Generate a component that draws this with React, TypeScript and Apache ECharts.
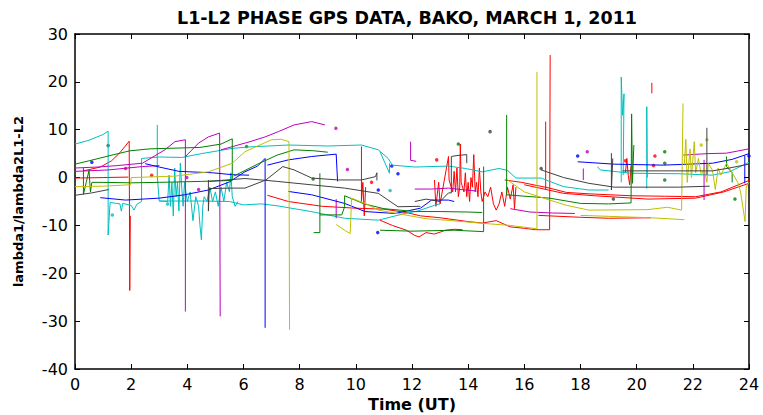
import React, { useEffect, useRef } from "react";
import * as echarts from "echarts";

// ---------- data (time in UT hours, value) ----------
const xTicks = [0, 2, 4, 6, 8, 10, 12, 14, 16, 18, 20, 22, 24];
const yTicks = [-40, -30, -20, -10, 0, 10, 20, 30];

// red passes
const red1 = [[0.3, 1.4], [0.9, 2.2], [1.3, 3.5], [1.6, 5.2], [1.93, 7.6], [1.95, -23.6], [1.97, -8]];
const red2 = [[0, -0.1], [1.0, 0.0], [1.9, 0.1]];
const red3 = [[6.85, -3.7], [7.6, -5.0], [8.8, -6.0], [10.0, -6.4], [11.0, -6.6], [11.8, -7.3], [12.3, -8.0], [13.0, -8.4], [14.0, -9.2], [14.5, -9.5], [15.0, -9.0], [15.5, -10.3], [16.0, -10.6], [16.4, -10.9], [16.9, -10.9], [16.92, 25.6]];
const red4 = [[10.86, -8.9], [11.3, -10.0], [11.8, -11.0], [12.1, -12.1], [12.25, -12.4], [12.5, -11.5], [12.8, -11.8], [13.2, -11.0], [13.5, -10.8], [13.8, -10.9]];
const red5 = [[15.3, -0.5], [15.9, -1.0], [16.9, -2.2], [17.5, -3.1], [18.3, -3.4], [19.8, -3.8], [21.0, -3.9], [22.1, -4.0], [23.0, -3.0], [24.0, -0.6]];
const red6 = [[16.0, -1.5], [17.4, -3.3], [18.5, -3.8], [20.4, -4.5], [22.1, -4.3], [23.1, -3.0], [24.0, -1.2]];
const red7 = [[16.5, -7.9], [18.0, -8.3], [19.0, -8.5], [20.5, -8.4]];
const red8 = [[10.2, 6.5], [10.2, -5.0], [10.25, -1.0], [10.3, -8.0], [10.35, -2.0]];
const red9 = [[12.8, -0.5], [12.85, -6.0], [12.95, -1.0], [13.0, -5.5], [13.3, 4.4], [13.32, -0.5], [13.45, -3], [13.5, 1.3], [13.55, -3], [13.6, 2], [13.65, -4], [13.7, -2], [13.72, 7], [13.75, -1], [13.85, -3], [13.9, 1], [13.95, -4], [14.0, -1], [14.05, -5], [14.1, 0], [14.15, -2], [14.2, 4.8], [14.25, -3], [14.3, -1], [14.35, -4], [14.4, 2], [14.45, -3], [14.5, -5], [14.6, -3], [14.7, -4], [14.8, -2], [14.9, -5.5], [15.0, -6.8], [15.1, -5.5], [15.2, -3], [15.3, -6], [15.4, -2], [15.5, -4.5], [15.6, -1.5], [15.65, -6.5], [15.7, -2]];
const red10 = [[16.76, 11.7], [16.76, -2.5]];
const red11 = [[20.54, 19.8], [20.54, 17.6]];
const red12 = [[19.6, 1.0], [19.65, 4.0], [19.7, 0.5], [19.75, -1.5], [19.8, 2.5]];

// cyan passes
const cyan1 = [[0, 7.0], [0.5, 7.8], [1.0, 9.0], [1.18, 9.7], [1.18, -12], [1.25, -5.2], [1.6, -5.5], [1.65, -7], [1.7, -5.4], [2.0, -5.8], [2.1, -6.8], [2.2, -5.6], [2.37, -5.0]];
const cyan2 = [[2.37, -5.0], [2.37, 4.0], [3.0, 4.3], [3.8, 4.2], [4.5, 5.0], [5.6, 6.1], [6.2, 6.4], [7.6, 6.8], [9.0, 6.6], [10.2, 6.8], [10.8, 5.8], [11.15, 4.0], [11.3, 2.6], [12.1, 2.2], [13.3, 2.4], [13.9, 1.9], [14.5, 1.2], [15.1, 1.9], [15.4, 1.5], [15.7, -0.1], [16.6, -0.1], [16.9, -0.8], [17.4, -1.9], [18.3, -2.6], [19.0, -2.6]];
const cyan3 = [[2.93, 11.0], [2.93, 0.2], [3.0, -4.9], [3.3, -5], [3.35, 0.5], [3.4, -6], [3.45, -1], [3.5, -8], [3.55, 2], [3.6, -4], [3.65, -1], [3.7, -7], [3.75, 3], [3.8, -2], [3.85, -6], [3.9, -1], [4.0, -5], [4.1, -3], [4.2, -9], [4.3, -4], [4.4, -6], [4.45, -10], [4.5, -13], [4.55, -6], [4.6, -4], [4.7, -5], [4.8, -2], [4.9, -5], [5.0, -3], [5.1, -6], [5.2, -2], [5.3, -5], [5.4, -1], [5.5, -3], [5.55, 1], [5.6, -4], [5.7, -6], [5.8, -5]];
const cyan4 = [[3.0, -4.9], [4.5, -4.9], [5.5, -5.0], [6.0, -5.7], [6.65, -5.5], [7.2, -5.9], [8.4, -7.1], [9.6, -8.5], [10.8, -8.9], [11.75, -7.5], [12.2, -7.0], [12.8, -5.8], [13.0, -5.5]];
const cyan5 = [[18.6, 2.3], [18.7, 1.6], [19.8, 0.9], [21.5, 0.8], [22.7, 0.5], [23.3, 1.2], [24.0, 3.2]];
const cyan6 = [[19.45, -1.0], [19.45, 21.0], [19.5, 13.0], [19.55, 17.5], [19.52, 0.5]];
const cyan7 = [[20.36, -2.3], [20.36, 14.8], [20.38, 0]];
const cyan8 = [[10.86, 5.4], [11.2, 0.9], [11.2, 3.0]];

// magenta passes
const mag1 = [[0, 2.0], [0.8, 2.2], [1.5, 2.5], [2.4, 3.0], [3.2, 5.8], [3.56, 7.5], [3.93, 7.9], [3.93, -28.0]];
const mag2 = [[3.95, 4.5], [4.4, 7.2], [4.75, 8.5], [5.15, 9.3], [5.17, -29.0]];
const mag3 = [[5.2, 5.8], [6.23, 7.5], [6.77, 8.5], [7.24, 9.6], [7.8, 11.0], [8.43, 11.7], [8.9, 11.0]];
const mag4 = [[0, 1.3], [1.2, 1.6], [2.4, 2.3], [3.0, 2.5]];
const mag5 = [[11.95, 7.5], [11.95, 3.6], [12.15, 3.4]];
const mag6 = [[12.1, -2.4], [12.7, -2.4], [13.3, -2.2], [13.9, -2.6], [14.3, -2.8]];
const mag7 = [[15.5, -6.5], [16.2, -7.2], [17.0, -7.4], [17.8, -7.5]];
const mag8 = [[21.66, 4.7], [22.5, 5.0], [23.2, 5.1], [24.0, 6.0]];
const mag9 = [[22.4, 3.7], [22.4, -4.7]];
const mag10 = [[9.3, -4.5], [9.3, -8.5]];
const mag11 = [[18.1, 1.9], [18.1, -0.5]];

// blue passes
const blue1 = [[0.9, -4.2], [1.8, -4.7], [3.0, -4.3], [3.9, -3.6], [4.75, -2.6], [5.5, -0.9], [6.05, 1.2], [6.5, 2.4], [6.77, 4.0], [6.77, -31.4]];
const blue2 = [[6.85, 2.6], [7.6, 3.7], [8.43, 4.4], [9.3, 4.9], [9.35, -0.8]];
const blue3 = [[2.5, 2.9], [3.0, 2.2], [3.7, 1.3], [4.9, 1.0], [5.6, 0.6], [6.2, 0.5]];
const blue4 = [[7.6, -2.9], [8.43, -3.6], [9.6, -5.4], [10.33, -7.1], [11.4, -7.5], [12.3, -6.4], [12.7, -4.7], [13.3, -4.7], [13.5, -5.0]];
const blue5 = [[17.9, 3.3], [19.2, 2.8], [20.95, 2.6], [22.7, 3.0], [23.4, 3.8], [24.0, 5.0]];
const blue6 = [[23.85, 4.6], [23.85, -1.2]];

// green passes
const green1 = [[0, 2.8], [0.5, 3.5], [1.25, 4.6], [1.96, 5.6], [2.67, 6.0], [4.45, 6.3], [5.2, 7.0], [5.6, 8.1], [5.6, -0.5]];
const green2 = [[0.3, 2.0], [0.3, -3.5], [0.4, -1.0], [0.5, 1.5], [0.55, -3.0], [0.6, -1.0], [1.0, -1.0], [2.0, -1.1], [3.0, -1.0], [4.5, -0.8], [5.6, -0.6]];
const green3 = [[5.65, 0.3], [6.5, 2.8], [7.2, 4.7], [7.8, 5.8], [8.5, 5.6], [9.0, 5.3]];
const green4 = [[8.5, -11.5], [8.72, -11.5], [8.72, 0.9]];
const green5 = [[8.72, -7.8], [9.5, -7.8], [9.6, -6.1], [9.6, -3.8], [10.3, -5.5], [11.0, -6.5], [12.1, -7.1], [13.0, -7.1], [14.0, -7.2], [14.5, -7.3]];
const green6 = [[10.86, -11.0], [12.0, -11.2], [13.5, -11.0], [14.55, -11.3], [14.55, 2.3]];
const green7 = [[15.37, 13.1], [15.37, -3.6], [16.9, -4.3], [18.0, -5.4], [19.0, -5.5], [19.8, -5.3], [19.82, 13.3], [19.85, -1.2], [19.9, 6.8]];
const green8 = [[23.2, 4.4], [23.2, 2.3], [23.4, 1.0], [23.4, -1.0]];

// yellow passes
const yel1 = [[0, -1.9], [1.0, -1.8], [1.98, -1.5], [2.0, 0.0], [3.56, 0.3], [4.75, 1.2], [5.6, 3.0], [6.05, 5.4], [7.0, 7.9], [7.35, 8.0], [7.62, 7.5], [7.64, -31.8]];
const yel2 = [[9.3, -9.8], [9.6, -11.0], [9.8, -11.7], [9.85, -4.3], [10.4, -5.6], [10.8, -6.8], [11.75, -7.8], [12.5, -8.6], [13.2, -8.9], [14.6, -9.6], [15.5, -10.0], [16.45, -10.7], [16.45, 22.1]];
const yel3 = [[15.4, -0.5], [16.0, -3.0], [16.9, -4.7], [17.5, -5.8], [18.3, -6.8], [20.4, -6.7], [21.1, -6.2], [21.6, -6.8], [21.65, 15.5]];
const yel4 = [[18.0, -7.9], [19.5, -8.2], [20.5, -8.4], [21.7, -8.8]];
const yel5 = [[21.7, 3], [21.75, 8], [21.8, -1], [21.9, 6], [21.95, 0], [22.05, 7.5], [22.1, 1], [22.2, 4], [22.3, 0.5], [22.4, 2], [22.5, -1], [22.55, 3], [22.7, 1.5], [22.8, -2.5], [22.9, 2], [23.0, 0.5], [23.2, 3], [23.4, 1], [23.6, -1], [23.7, -3], [23.86, -9.2], [23.9, -2], [24.0, -1]];

// black / grey passes
const blk1 = [[0, -3.7], [0.6, -3.2], [1.2, -2.5]];
const blk2 = [[4.75, -0.5], [4.75, -7.0], [4.78, -2.3], [5.5, -2.2], [6.05, -2.2], [6.8, -0.5], [7.4, 2.3], [7.8, 1.6], [8.43, -0.1], [9.38, -0.5], [10.2, -0.5], [10.7, 0.2], [10.75, 1.0], [10.75, -0.6]];
const blk3 = [[4.75, -0.8], [6.05, -0.2], [7.2, -0.8], [8.4, -1.5], [9.6, -2.2], [10.8, -3.3], [11.5, -6.1], [12.3, -6.0]];
const blk4 = [[12.1, -5.0], [12.5, -4.5], [13.0, -5.0], [13.3, -3.2], [13.4, -3.2], [13.4, 4.4], [13.6, 4.6], [13.95, 4.8], [13.95, 3.0]];
const blk5 = [[16.6, 1.6], [17.4, 0.0], [18.3, -1.2], [19.2, -2.0], [21.5, -2.0], [22.6, -1.8]];
const blk6 = [[19.5, 1.4], [22.7, 1.4], [23.3, 2.0], [24.0, 2.8]];
const blk7 = [[19.1, 5.1], [19.1, -2.6], [19.15, 4.0]];
const blk8 = [[22.5, 10.4], [22.5, 0.5]];

// isolated points
const dotsBlack = [[1.18, 6.7], [14.78, 9.6], [19.17, -4.5], [16.6, 1.9]];
const dotsBlue = [[0.6, 3.2], [17.9, 4.5], [11.28, 2.4], [11.5, 0.8], [10.8, -2.6], [10.78, -11.5], [24.0, 4.5]];
const dotsRed = [[12.88, 3.7], [19.6, 3.5], [20.65, 4.5], [20.6, 2.5], [2.73, 0.5], [10.56, -1.0], [1.8, 1.9]];
const dotsGreen = [[6.11, 6.5], [8.48, -0.3], [21.0, 5.4], [21.0, 3.0], [21.0, -0.5], [23.5, -4.5], [13.65, 7.0]];
const dotsMagenta = [[9.29, 10.3], [18.24, 5.4], [3.98, 0.0], [4.4, -2.5], [9.7, 1.7]];
const dotsCyan = [[11.22, -2.7], [1.33, -7.8], [3.3, -5.5]];
const dotsYellow = [[22.5, 7.9], [22.3, 6.8], [23.56, 3.3]];

const R = "#FF0000", C = "#00BFBF", M = "#BF00BF", B = "#0000FF", G = "#008000", Y = "#BFBF00", K = "#404040";

const lines = [
  { data: red1, color: R }, { data: red2, color: R }, { data: red3, color: R }, { data: red4, color: R },
  { data: red5, color: R }, { data: red6, color: R }, { data: red7, color: R }, { data: red8, color: R },
  { data: red9, color: R }, { data: red10, color: R }, { data: red11, color: R }, { data: red12, color: R },
  { data: cyan1, color: C }, { data: cyan2, color: C }, { data: cyan3, color: C }, { data: cyan4, color: C },
  { data: cyan5, color: C }, { data: cyan6, color: C }, { data: cyan7, color: C }, { data: cyan8, color: C },
  { data: mag1, color: M }, { data: mag2, color: M }, { data: mag3, color: M }, { data: mag4, color: M },
  { data: mag5, color: M }, { data: mag6, color: M }, { data: mag7, color: M }, { data: mag8, color: M },
  { data: mag9, color: M }, { data: mag10, color: M }, { data: mag11, color: M },
  { data: blue1, color: B }, { data: blue2, color: B }, { data: blue3, color: B }, { data: blue4, color: B },
  { data: blue5, color: B }, { data: blue6, color: B },
  { data: green1, color: G }, { data: green2, color: G }, { data: green3, color: G }, { data: green4, color: G },
  { data: green5, color: G }, { data: green6, color: G }, { data: green7, color: G }, { data: green8, color: G },
  { data: yel1, color: Y }, { data: yel2, color: Y }, { data: yel3, color: Y }, { data: yel4, color: Y }, { data: yel5, color: Y },
  { data: blk1, color: K }, { data: blk2, color: K }, { data: blk3, color: K }, { data: blk4, color: K },
  { data: blk5, color: K }, { data: blk6, color: K }, { data: blk7, color: K }, { data: blk8, color: K },
];

const dots = [
  { data: dotsBlack, color: K }, { data: dotsBlue, color: B }, { data: dotsRed, color: R },
  { data: dotsGreen, color: G }, { data: dotsMagenta, color: M }, { data: dotsCyan, color: C }, { data: dotsYellow, color: Y },
];

const FONT = "DejaVu Sans";

export default function App() {
  const ref = useRef<HTMLDivElement>(null);
  useEffect(() => {
    if (!ref.current) return;
    const chart = echarts.init(ref.current, null, { renderer: "svg" });
    const axisCommon = {
      type: "value" as const,
      axisLine: { show: true, onZero: false, lineStyle: { color: "#000", width: 1.5 } },
      axisTick: { show: true, inside: true, length: 5, lineStyle: { color: "#000", width: 1 } },
      splitLine: { show: false },
    };
    chart.setOption({
      animation: false,
      backgroundColor: "#fff",
      title: {
        text: "L1-L2 PHASE GPS DATA, BAKO, MARCH 1, 2011",
        left: 402,
        textAlign: "center",
        top: 4,
        textStyle: { fontFamily: FONT, fontWeight: "bold", fontSize: 17.5, color: "#000" },
      },
      grid: { left: 75, right: 14, top: 34, bottom: 46, outerBoundsMode: "none", containLabel: false },
      xAxis: [
        {
          ...axisCommon,
          position: "bottom",
          min: xTicks[0],
          max: xTicks[xTicks.length - 1],
          interval: 2,
          axisLabel: { fontFamily: FONT, fontSize: 16, color: "#000", margin: 7 },
          name: "Time (UT)",
          nameLocation: "middle",
          nameGap: 24,
          nameTextStyle: { fontFamily: FONT, fontWeight: "bold", fontSize: 16, color: "#000" },
        },
        {
          ...axisCommon,
          position: "top",
          min: xTicks[0],
          max: xTicks[xTicks.length - 1],
          interval: 2,
          axisLabel: { show: false },
        },
      ],
      yAxis: [
        {
          ...axisCommon,
          position: "left",
          min: yTicks[0],
          max: yTicks[yTicks.length - 1],
          interval: 10,
          axisLabel: { fontFamily: FONT, fontSize: 16, color: "#000", margin: 7 },
          name: "lambda1/lambda2L1-L2",
          nameLocation: "middle",
          nameGap: 50,
          nameTextStyle: { fontFamily: FONT, fontWeight: "bold", fontSize: 13, color: "#000" },
        },
        {
          ...axisCommon,
          position: "right",
          min: yTicks[0],
          max: yTicks[yTicks.length - 1],
          interval: 10,
          axisLabel: { show: false },
        },
      ],
      series: [
        ...lines.map((l) => ({
          type: "line",
          xAxisIndex: 0,
          yAxisIndex: 0,
          data: l.data,
          showSymbol: false,
          symbol: "none",
          silent: true,
          lineStyle: { color: l.color, width: 1 },
        })),
        ...dots.map((d) => ({
          type: "scatter",
          xAxisIndex: 0,
          yAxisIndex: 0,
          data: d.data,
          symbol: "circle",
          symbolSize: 3.5,
          silent: true,
          itemStyle: { color: d.color },
        })),
      ],
    });
    return () => chart.dispose();
  }, []);
  return <div ref={ref} style={{ position: "absolute", left: 0, top: 0, width: 763, height: 415 }} />;
}
